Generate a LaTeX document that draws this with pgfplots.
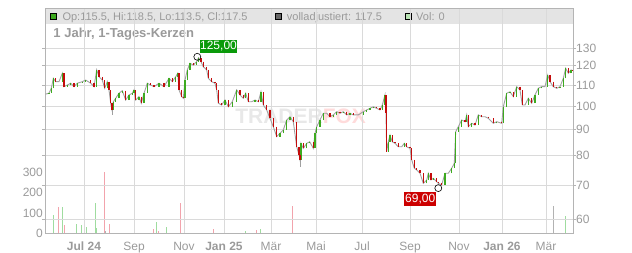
\documentclass[border=0pt]{standalone}
\usepackage{fontspec}
\setmainfont{Liberation Sans}
\usepackage{pgfplots}
\pgfplotsset{compat=1.18}
\definecolor{tickgray}{HTML}{9A9A9A}
\definecolor{gridgray}{HTML}{DADADA}
\definecolor{framegray}{HTML}{B4B4B4}
\definecolor{bandgray}{HTML}{E4E4E4}
\definecolor{cgreen}{HTML}{3DAA1F}
\definecolor{cred}{HTML}{C40C0C}
\definecolor{vgreen}{HTML}{9FDC9F}
\definecolor{vred}{HTML}{F2A3AC}
\definecolor{lgreen}{HTML}{B9E3B4}
\definecolor{labgreen}{HTML}{0A9A0A}
\definecolor{labred}{HTML}{CC0000}
\definecolor{linegray}{HTML}{A0A0A0}
\begin{document}
\begin{tikzpicture}[x=1pt,y=1pt]
\useasboundingbox (0,0) rectangle (632,253);
% ---------- volume axis ----------
\begin{axis}[
  at={(45pt,19.7pt)}, anchor=south west, scale only axis,
  width=528pt, height=225pt,
  xmin=45, xmax=573, ymin=0, ymax=1107,
  axis line style={framegray, line width=0.8pt},
  xtick=\empty,
  ytick={0,100,200,300},
  ytick style={draw=none},
  yticklabel style={text=tickgray, font=\fontsize{12}{14}\selectfont, anchor=east, inner sep=0pt, xshift=-2pt},
  /pgf/number format/assume math mode=true,
  clip mode=individual,
]
\fill[bandgray] (rel axis cs:0,0.9324) rectangle (rel axis cs:1,1);
\node[draw=black, fill=cgreen, minimum size=6pt, inner sep=0pt, line width=0.6pt, anchor=south west] at (rel axis cs:0.0095,0.949) {};
\node[anchor=base west, inner sep=0pt, text=tickgray, font=\fontsize{11}{11}\selectfont] at (rel axis cs:0.0328,0.945) {Op:115.5, Hi:118.5, Lo:113.5, Cl:117.5};
\node[draw=black, fill=black!60, minimum size=6pt, inner sep=0pt, line width=0.6pt, anchor=south west] at (rel axis cs:0.4356,0.949) {};
\node[anchor=base west, inner sep=0pt, text=tickgray, font=\fontsize{11}{11}\selectfont] at (rel axis cs:0.4578,0.945) {volladjustiert: 117.5};
\node[draw=black, fill=lgreen, minimum size=6pt, inner sep=0pt, line width=0.6pt, anchor=south west] at (rel axis cs:0.6818,0.949) {};
\node[anchor=base west, inner sep=0pt, text=tickgray, font=\fontsize{11}{11}\selectfont] at (rel axis cs:0.7027,0.945) {Vol: 0};
\node[anchor=base west, inner sep=0pt, text=tickgray, font=\bfseries\fontsize{13}{13}\selectfont] at (rel axis cs:0.0157,0.868) {1 Jahr, 1-Tages-Kerzen};
% watermark
\node[anchor=base west, inner sep=0pt, font=\bfseries\fontsize{21}{21}\selectfont] at (rel axis cs:0.36,0.49) {\textcolor{black!9}{TRADER}\textcolor{red!14}{FOX}};
\addplot[ycomb, vgreen, line width=1pt] coordinates {(53.3,90) (62.3,128) (76.7,46) (81.3,41) (86.3,31) (95.7,149) (96.3,25) (156.3,56) (166.3,31) (245.7,10) (260.3,21) (565.3,87)};
\addplot[ycomb, vred, line width=1pt] coordinates {(58.7,128) (64.3,41) (104.7,302) (109.3,46) (153.3,21) (158.3,10) (180.3,149) (213.3,21) (256.3,15) (292.3,136)};
\addplot[ycomb, black!30, line width=1pt] coordinates {(105.3,10) (553.3,136)};
\end{axis}
% ---------- price axis ----------
\begin{axis}[
  at={(45pt,19.7pt)}, anchor=south west, scale only axis,
  width=528pt, height=225pt,
  xmin=45, xmax=573, ymode=log, ymin=56.24, ymax=155.7,
  xtick={84,134,184,224,271,316,362,410,459,502,546},
  xticklabels={\textbf{Jul 24},Sep,Nov,\textbf{Jan 25},Mär,Mai,Jul,Sep,Nov,\textbf{Jan 26},Mär},
  ytick={60,70,80,90,100,110,120,130},
  yticklabels={60,70,80,90,100,110,120,130},
  yticklabel pos=right,
  grid=major, grid style={gridgray, line width=0.8pt},
  axis line style={framegray, line width=0.8pt},
  tick label style={text=tickgray, font=\fontsize{12}{14}\selectfont},
  xticklabel style={anchor=north, inner sep=0pt, yshift=-5.5pt},
  yticklabel style={anchor=west, inner sep=0pt},
  /pgf/number format/assume math mode=true,
  xtick style={draw=none},
  ytick style={framegray, line width=0.8pt},
  tick align=outside, major tick length=3pt,
  unbounded coords=jump,
  clip mode=individual,
]
\addplot[linegray, line width=0.9pt] coordinates {
(45.7,105.6)(49,106.0)(51.3,108.4)(53.3,113.4)(55.7,111.7)(59,111.7)(62.3,116.0)(64,109.2)(67.3,110.0)(70.7,110.9)(74,109.2)(77.3,110.9)(82.3,111.7)(85.7,112.5)(90.7,110.9)(94,109.2)(96.7,117.8)(99,114.2)(102.3,112.5)(104.7,108.4)(107.3,111.7)(109,107.6)(110.7,101.3)(112,98.3)(113.3,102.0)(115.7,103.6)(119,106.0)(122.3,107.2)(125.7,102.8)(129,105.2)(132.3,106.0)(134,107.6)(135.7,102.8)(139,104.4)(141.3,101.3)(144,106.0)(147.3,110.9)(150.7,110.0)(154,109.2)(159,110.9)(164,109.2)(169,113.4)(172.3,111.7)(175.7,114.2)(177.7,116.0)(179,107.6)(181.7,104.4)(183.3,103.6)(185,112.5)(187.3,117.8)(190,121.4)(193.3,120.4)(196.7,122.3)(198.3,124.2)(201,122.3)(203.3,119.5)(206.7,117.8)(208.3,113.4)(211.7,111.7)(215,110.9)(216.7,107.6)(218.3,101.3)(221.7,100.5)(225,102.8)(228.3,99.7)(232.3,102.0)(236.7,107.6)(240,105.2)(243.3,103.6)(245.7,106.0)(248.3,102.0)(251.7,102.0)(255,102.8)(258.3,102.0)(261,106.7)(263.3,100.5)(266.7,98.3)(270,94.6)(273.3,91.1)(276.7,87.1)(280,88.4)(283.3,89.8)(286.7,93.9)(290,95.3)(293.3,93.2)(296.7,83.2)(299,80.2)(300,78.4)(301,84.5)(303.3,82.6)(306.7,84.5)(309.7,85.1)(313.3,82.6)(315,88.4)(316.7,91.1)(320,93.9)(323.3,96.8)(326.7,96.8)(330,95.3)(333.3,96.1)(336.7,97.5)(340,96.8)(343.3,97.5)(346.7,96.1)(350,96.8)(353.3,96.1)(358.3,96.1)(363.3,97.5)(366.7,98.3)(370,99.0)(373.3,99.7)(376.7,99.0)(380,98.3)(382.3,100.5)(385,105.2)(386,96.8)(386.7,81.4)(388.3,85.1)(390,87.7)(392.3,85.1)(395,84.5)(398.3,83.2)(401.7,83.2)(404.3,84.5)(406.7,83.2)(410,82.6)(411.7,78.4)(414.3,75.5)(416.7,74.9)(420,73.8)(423.3,70.5)(426.7,71.6)(428.3,73.8)(431,71.6)(433.3,72.1)(436.7,71.0)(438.3,70.5)(441.7,70.0)(445,73.8)(448.3,73.8)(451.7,75.5)(454.3,77.2)(455.7,89.1)(458.3,91.1)(461.7,93.9)(465,93.2)(466.7,96.1)(468.3,91.1)(471.7,92.5)(475,91.8)(478.3,96.1)(481.7,95.3)(485,95.3)(488.3,94.6)(493.3,92.5)(496.7,93.2)(501.7,92.5)(503.3,99.7)(506.7,106.0)(510,106.7)(513.3,104.4)(516.7,109.2)(520,107.6)(522.3,100.5)(525,100.5)(528.3,103.6)(531.7,101.3)(535,105.2)(538.3,108.4)(541.7,109.2)(545,109.2)(547.7,115.1)(550,111.7)(553.3,109.2)(556.7,108.4)(560,109.2)(563.3,113.4)(565.7,118.7)(568.3,116.0)(571,117.8)(572.3,117.5)
};
% wicks
\addplot[linegray, line width=0.9pt] coordinates {(112,96.1)(112,98.3)(112,nan)(300,76.0)(300,78.4)(300,nan)(198.3,124.2)(198.3,125.0)};
% green candle bodies
\addplot[cgreen, line width=1.1pt] coordinates {
(49,105.6)(49,106.0)(49,nan)(51.3,106.0)(51.3,108.4)(51.3,nan)(53.3,108.4)(53.3,113.4)(53.3,nan)(62.3,111.7)(62.3,116.0)(62.3,nan)
(67.3,109.2)(67.3,110.0)(67.3,nan)(70.7,110.0)(70.7,110.9)(70.7,nan)(77.3,109.2)(77.3,110.9)(77.3,nan)(82.3,110.9)(82.3,111.7)(82.3,nan)
(85.7,111.7)(85.7,112.5)(85.7,nan)(96.7,109.2)(96.7,117.8)(96.7,nan)(107.3,108.4)(107.3,111.7)(107.3,nan)(113.3,98.3)(113.3,102.0)(113.3,nan)
(115.7,102.0)(115.7,103.6)(115.7,nan)(119,103.6)(119,106.0)(119,nan)(122.3,106.0)(122.3,107.2)(122.3,nan)(129,102.8)(129,105.2)(129,nan)
(132.3,105.2)(132.3,106.0)(132.3,nan)(134,106.0)(134,107.6)(134,nan)(139,102.8)(139,104.4)(139,nan)(144,101.3)(144,106.0)(144,nan)
(147.3,106.0)(147.3,110.9)(147.3,nan)(159,109.2)(159,110.9)(159,nan)(169,109.2)(169,113.4)(169,nan)(175.7,111.7)(175.7,114.2)(175.7,nan)
(177.7,114.2)(177.7,116.0)(177.7,nan)(185,103.6)(185,112.5)(185,nan)(187.3,112.5)(187.3,117.8)(187.3,nan)(190,117.8)(190,121.4)(190,nan)
(196.7,120.4)(196.7,122.3)(196.7,nan)(198.3,122.3)(198.3,124.2)(198.3,nan)(225,100.5)(225,102.8)(225,nan)(232.3,99.7)(232.3,102.0)(232.3,nan)
(236.7,102.0)(236.7,107.6)(236.7,nan)(245.7,103.6)(245.7,106.0)(245.7,nan)(255,102.0)(255,102.8)(255,nan)(261,102.0)(261,106.7)(261,nan)
(280,87.1)(280,88.4)(280,nan)(283.3,88.4)(283.3,89.8)(283.3,nan)(286.7,89.8)(286.7,93.9)(286.7,nan)(290,93.9)(290,95.3)(290,nan)
(301,78.4)(301,84.5)(301,nan)(306.7,82.6)(306.7,84.5)(306.7,nan)(309.7,84.5)(309.7,85.1)(309.7,nan)(315,82.6)(315,88.4)(315,nan)
(316.7,88.4)(316.7,91.1)(316.7,nan)(320,91.1)(320,93.9)(320,nan)(323.3,93.9)(323.3,96.8)(323.3,nan)(333.3,95.3)(333.3,96.1)(333.3,nan)
(336.7,96.1)(336.7,97.5)(336.7,nan)(343.3,96.8)(343.3,97.5)(343.3,nan)(350,96.1)(350,96.8)(350,nan)(363.3,96.1)(363.3,97.5)(363.3,nan)
(366.7,97.5)(366.7,98.3)(366.7,nan)(370,98.3)(370,99.0)(370,nan)(373.3,99.0)(373.3,99.7)(373.3,nan)(382.3,98.3)(382.3,100.5)(382.3,nan)
(385,100.5)(385,105.2)(385,nan)(388.3,81.4)(388.3,85.1)(388.3,nan)(390,85.1)(390,87.7)(390,nan)(404.3,83.2)(404.3,84.5)(404.3,nan)
(426.7,70.5)(426.7,71.6)(426.7,nan)(428.3,71.6)(428.3,73.8)(428.3,nan)(433.3,71.6)(433.3,72.1)(433.3,nan)(445,70.0)(445,73.8)(445,nan)
(451.7,73.8)(451.7,75.5)(451.7,nan)(454.3,75.5)(454.3,77.2)(454.3,nan)(455.7,77.2)(455.7,89.1)(455.7,nan)(458.3,89.1)(458.3,91.1)(458.3,nan)
(461.7,91.1)(461.7,93.9)(461.7,nan)(466.7,93.2)(466.7,96.1)(466.7,nan)(471.7,91.1)(471.7,92.5)(471.7,nan)(478.3,91.8)(478.3,96.1)(478.3,nan)
(496.7,92.5)(496.7,93.2)(496.7,nan)(503.3,92.5)(503.3,99.7)(503.3,nan)(506.7,99.7)(506.7,106.0)(506.7,nan)(510,106.0)(510,106.7)(510,nan)
(516.7,104.4)(516.7,109.2)(516.7,nan)(528.3,100.5)(528.3,103.6)(528.3,nan)(535,101.3)(535,105.2)(535,nan)(538.3,105.2)(538.3,108.4)(538.3,nan)
(541.7,108.4)(541.7,109.2)(541.7,nan)(547.7,109.2)(547.7,115.1)(547.7,nan)(560,108.4)(560,109.2)(560,nan)(563.3,109.2)(563.3,113.4)(563.3,nan)
(565.7,113.4)(565.7,118.7)(565.7,nan)(571,116.0)(571,117.8)
};
% red candle bodies
\addplot[cred, line width=1.1pt] coordinates {
(55.7,113.4)(55.7,111.7)(55.7,nan)(64,116.0)(64,109.2)(64,nan)(74,110.9)(74,109.2)(74,nan)(90.7,112.5)(90.7,110.9)(90.7,nan)
(94,110.9)(94,109.2)(94,nan)(99,117.8)(99,114.2)(99,nan)(102.3,114.2)(102.3,112.5)(102.3,nan)(104.7,112.5)(104.7,108.4)(104.7,nan)
(109,111.7)(109,107.6)(109,nan)(110.7,107.6)(110.7,101.3)(110.7,nan)(112,101.3)(112,98.3)(112,nan)(125.7,107.2)(125.7,102.8)(125.7,nan)
(135.7,107.6)(135.7,102.8)(135.7,nan)(141.3,104.4)(141.3,101.3)(141.3,nan)(150.7,110.9)(150.7,110.0)(150.7,nan)(154,110.0)(154,109.2)(154,nan)
(164,110.9)(164,109.2)(164,nan)(172.3,113.4)(172.3,111.7)(172.3,nan)(179,116.0)(179,107.6)(179,nan)(181.7,107.6)(181.7,104.4)(181.7,nan)
(183.3,104.4)(183.3,103.6)(183.3,nan)(193.3,121.4)(193.3,120.4)(193.3,nan)(201,124.2)(201,122.3)(201,nan)(203.3,122.3)(203.3,119.5)(203.3,nan)
(206.7,119.5)(206.7,117.8)(206.7,nan)(208.3,117.8)(208.3,113.4)(208.3,nan)(211.7,113.4)(211.7,111.7)(211.7,nan)(215,111.7)(215,110.9)(215,nan)
(216.7,110.9)(216.7,107.6)(216.7,nan)(218.3,107.6)(218.3,101.3)(218.3,nan)(221.7,101.3)(221.7,100.5)(221.7,nan)(228.3,102.8)(228.3,99.7)(228.3,nan)
(240,107.6)(240,105.2)(240,nan)(243.3,105.2)(243.3,103.6)(243.3,nan)(248.3,106.0)(248.3,102.0)(248.3,nan)(258.3,102.8)(258.3,102.0)(258.3,nan)
(263.3,106.7)(263.3,100.5)(263.3,nan)(266.7,100.5)(266.7,98.3)(266.7,nan)(270,98.3)(270,94.6)(270,nan)(273.3,94.6)(273.3,91.1)(273.3,nan)
(276.7,91.1)(276.7,87.1)(276.7,nan)(293.3,95.3)(293.3,93.2)(293.3,nan)(296.7,93.2)(296.7,83.2)(296.7,nan)(299,83.2)(299,80.2)(299,nan)
(300,80.2)(300,78.4)(300,nan)(303.3,84.5)(303.3,82.6)(303.3,nan)(313.3,85.1)(313.3,82.6)(313.3,nan)(330,96.8)(330,95.3)(330,nan)
(340,97.5)(340,96.8)(340,nan)(346.7,97.5)(346.7,96.1)(346.7,nan)(353.3,96.8)(353.3,96.1)(353.3,nan)(376.7,99.7)(376.7,99.0)(376.7,nan)
(380,99.0)(380,98.3)(380,nan)(386,105.2)(386,96.8)(386,nan)(386.7,96.8)(386.7,81.4)(386.7,nan)(392.3,87.7)(392.3,85.1)(392.3,nan)
(395,85.1)(395,84.5)(395,nan)(398.3,84.5)(398.3,83.2)(398.3,nan)(406.7,84.5)(406.7,83.2)(406.7,nan)(410,83.2)(410,82.6)(410,nan)
(411.7,82.6)(411.7,78.4)(411.7,nan)(414.3,78.4)(414.3,75.5)(414.3,nan)(416.7,75.5)(416.7,74.9)(416.7,nan)(420,74.9)(420,73.8)(420,nan)
(423.3,73.8)(423.3,70.5)(423.3,nan)(431,73.8)(431,71.6)(431,nan)(436.7,72.1)(436.7,71.0)(436.7,nan)(438.3,71.0)(438.3,70.5)(438.3,nan)
(441.7,70.5)(441.7,70.0)(441.7,nan)(465,93.9)(465,93.2)(465,nan)(468.3,96.1)(468.3,91.1)(468.3,nan)(475,92.5)(475,91.8)(475,nan)
(481.7,96.1)(481.7,95.3)(481.7,nan)(488.3,95.3)(488.3,94.6)(488.3,nan)(493.3,94.6)(493.3,92.5)(493.3,nan)(501.7,93.2)(501.7,92.5)(501.7,nan)
(513.3,106.7)(513.3,104.4)(513.3,nan)(520,109.2)(520,107.6)(520,nan)(522.3,107.6)(522.3,100.5)(522.3,nan)(531.7,103.6)(531.7,101.3)(531.7,nan)
(550,115.1)(550,111.7)(550,nan)(553.3,111.7)(553.3,109.2)(553.3,nan)(556.7,109.2)(556.7,108.4)(556.7,nan)(568.3,118.7)(568.3,116.0)(568.3,nan)
(572.3,117.8)(572.3,117.5)
};
% high / low markers
\addplot[only marks, mark=o, mark size=3.5pt, black, line width=0.6pt] coordinates {(197.3,125.0) (438.3,69.0)};
\node[fill=labgreen, text=white, inner xsep=0.5pt, inner ysep=0pt, minimum height=12.5pt, font=\fontsize{12}{12}\selectfont] at (axis cs:218.5,131.1) {125,00};
\node[fill=labred, text=white, inner xsep=1pt, inner ysep=0pt, minimum height=14pt, font=\fontsize{12}{12}\selectfont] at (axis cs:420.2,65.77) {69,00};
\end{axis}
\end{tikzpicture}
\end{document}
